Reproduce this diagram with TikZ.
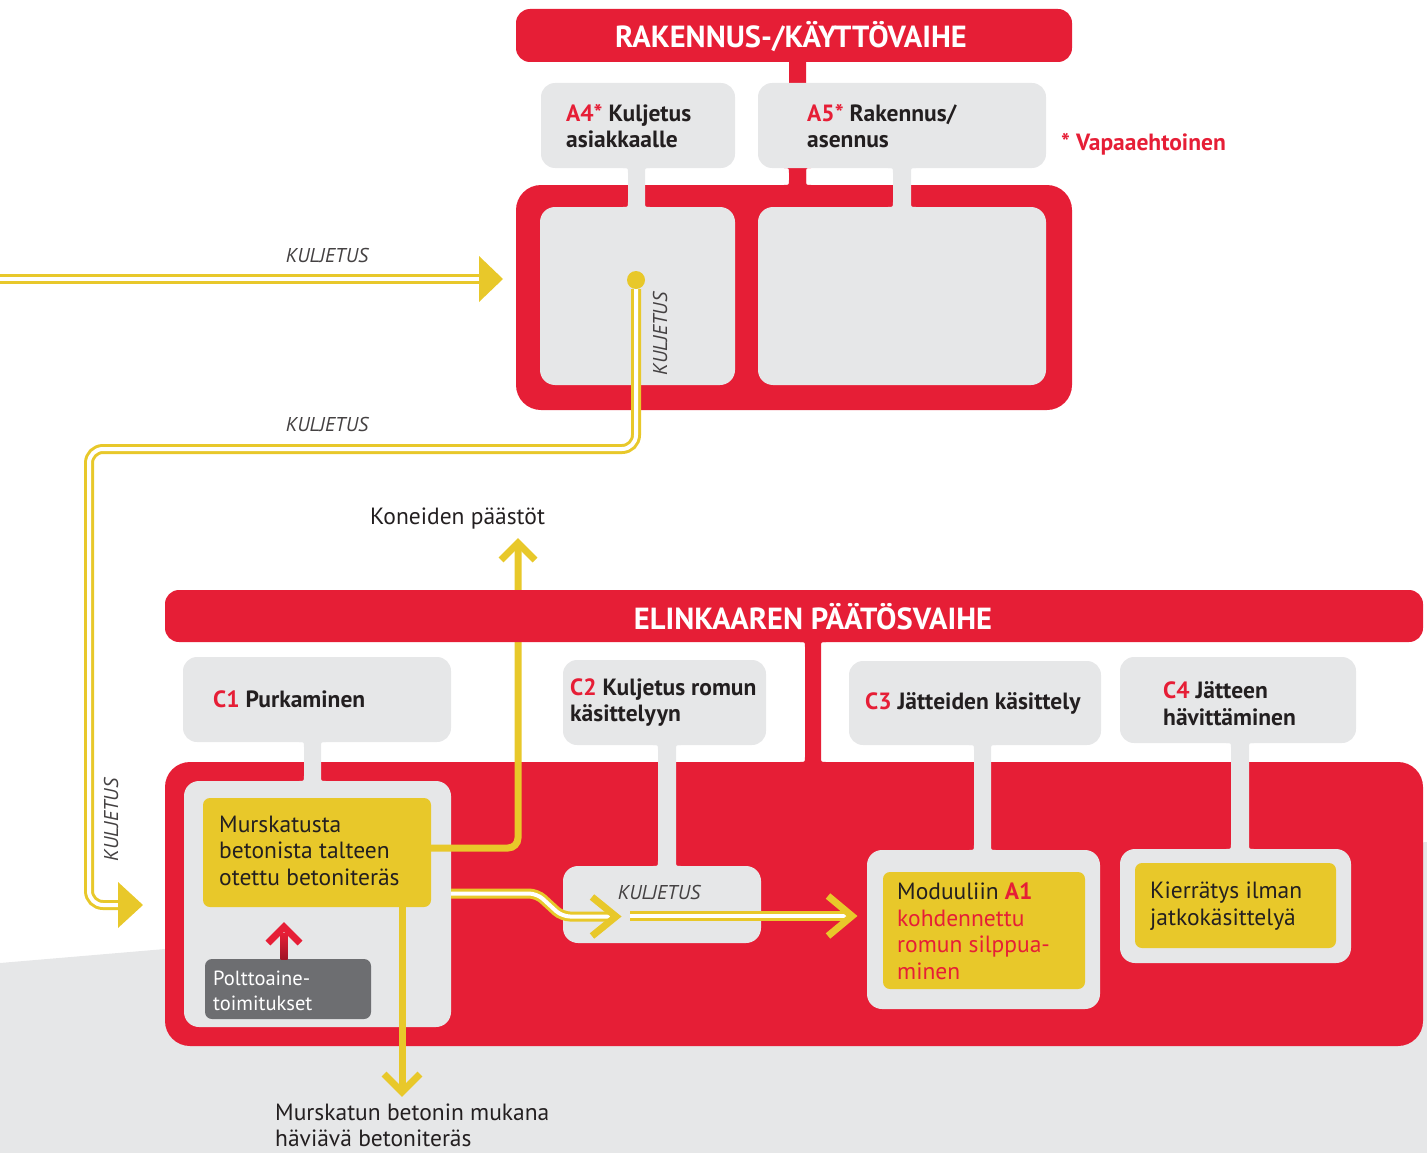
\documentclass[tikz,border=0pt]{standalone}
\usepackage{fontspec}
\setmainfont{PT Sans}
\definecolor{rd}{HTML}{E61E36}
\definecolor{yl}{HTML}{E8C82A}
\definecolor{lg}{HTML}{E6E7E8}
\definecolor{dg}{HTML}{6D6E71}
\definecolor{tx}{HTML}{231F20}
\newcommand{\stemfill}[6]{%
 \fill[#1] ({#2-#6},#4) .. controls (#2,#4) .. (#2,{#4+#6}) -- (#2,{#5-#6}) .. controls (#2,#5) .. ({#2-#6},#5) -- ({#3+#6},#5) .. controls (#3,#5) .. (#3,{#5-#6}) -- (#3,{#4+#6}) .. controls (#3,#4) .. ({#3+#6},#4) -- cycle;}
\begin{document}
\begin{tikzpicture}[x=1pt,y=-1pt,
  redbox/.style={fill=rd, inner sep=0pt, rounded corners=25pt},
  hdrbox/.style={fill=rd, inner sep=0pt, rounded corners=14pt},
  greybox/.style={fill=lg, inner sep=0pt, rounded corners=14pt},
  ylbox/.style={fill=yl, inner sep=0pt, rounded corners=7pt},
  fuelbox/.style={fill=dg, inner sep=0pt, rounded corners=7pt},
  hdrtxt/.style={text=white, inner sep=0pt, font=\fontsize{30.5}{33}\selectfont\bfseries},
  lbl/.style={text=tx, inner sep=0pt, align=left, anchor=west, font=\fontsize{23.5}{26.5}\selectfont\bfseries},
  body/.style={text=tx, inner sep=0pt, align=left, anchor=west, font=\fontsize{23.5}{26.5}\selectfont},
  kul/.style={text=tx!85, inner sep=0pt, font=\fontsize{20}{22}\selectfont\itshape},
  dbl/.style={draw=yl, line width=3pt, double=white, double distance=4pt},
  yline/.style={draw=yl, line width=7pt},
  chev/.style={draw=yl, line width=7pt, miter limit=10},
  rchev/.style={draw=rd, line width=7pt, miter limit=10}
]
\useasboundingbox (0,0) rectangle (1427,1153);
% background
\fill[lg] (0,963) -- (1427,842) -- (1427,1153) -- (0,1153) -- cycle;

% ---------- upper section ----------
\stemfill{rd}{789}{806}{55}{190}{5}
\node[hdrbox, minimum width=556pt, minimum height=53pt] (hdr1) at (794,35.5) {};
\node[redbox, minimum width=556pt, minimum height=225pt] (topbig) at (794,297.5) {};
\stemfill{rd}{789}{806}{168}{185}{5}
\node[greybox, minimum width=194pt, minimum height=85pt] (a4) at (638,125.5) {};
\node[greybox, minimum width=288pt, minimum height=85pt] (a5) at (902,125.5) {};
\stemfill{lg}{628}{645}{168}{207}{5}
\stemfill{lg}{893}{911}{168}{207}{5}
\node[greybox, rounded corners=15pt, minimum width=195pt, minimum height=178pt] (in4) at (637.5,296) {};
\node[greybox, rounded corners=15pt, minimum width=288pt, minimum height=178pt] (in5) at (902,296) {};
\node[hdrtxt] (hdr1t) at (791,37) {RAKENNUS-/KÄYTTÖVAIHE};
\node[lbl] (a4t) at (566,126) {\textcolor{rd}{A4*} Kuljetus\\asiakkaalle};
\node[lbl] (a5t) at (807,126) {\textcolor{rd}{A5*} Rakennus/\\asennus};
\node[lbl, text=rd] (opt) at (1061,144) {* Vapaaehtoinen};

% ---------- lower section ----------
\node[redbox, minimum width=1258pt, minimum height=284pt] (botbig) at (794,904) {};
\stemfill{rd}{805}{821}{642}{762}{5}
\node[greybox, minimum width=268pt, minimum height=85pt] (c1) at (317,699.5) {};
\node[greybox, minimum width=203pt, minimum height=85pt] (c2) at (664.5,702.5) {};
\node[greybox, minimum width=252pt, minimum height=84pt] (c3) at (975,703) {};
\node[greybox, minimum width=236pt, minimum height=86pt] (c4) at (1238,700) {};
\stemfill{lg}{304}{321}{742}{781}{5}
\stemfill{lg}{658}{676}{745}{866}{5}
\stemfill{lg}{974}{991}{745}{850}{5}
\stemfill{lg}{1231}{1249}{743}{849}{5}
\node[greybox, rounded corners=15pt, minimum width=267pt, minimum height=246pt] (c1in) at (317.5,904) {};
\node[greybox, rounded corners=15pt, minimum width=198pt, minimum height=77pt] (c2in) at (662,904.5) {};
\node[greybox, rounded corners=15pt, minimum width=233pt, minimum height=159pt] (c3in) at (983.5,929.5) {};
\node[greybox, rounded corners=15pt, minimum width=231pt, minimum height=114pt] (c4in) at (1235.5,906) {};
\node[ylbox, minimum width=228pt, minimum height=109pt] (yb1) at (317,852.5) {};
\node[ylbox, minimum width=202pt, minimum height=117pt] (yb3) at (984,930.5) {};
\node[ylbox, minimum width=201pt, minimum height=85pt] (yb4) at (1235.5,905.5) {};
\node[fuelbox, minimum width=166pt, minimum height=60pt] (fuel) at (288,989) {};

% yellow connectors
\coordinate (u0) at (431,848);
\coordinate (u1) at (518,543);
\draw[yline, rounded corners=10pt] (u0) -- (518,848) -- (u1);
\draw[chev] (501,560) -- (u1) -- (535,560);
\coordinate (d0) at (402,907);
\coordinate (d1) at (402,1092);
\draw[yline] (d0) -- (d1);
\draw[chev] (384,1074) -- (d1) -- (420,1074);

% red fuel arrow
\coordinate (r1) at (284,927);
\shade[top color=rd, bottom color=rd!70!black] (280.5,933) rectangle (287.5,959);
\draw[rchev] (268,943) -- (r1) -- (300,943);

% double transport lines
\coordinate (lft) at (0,279);
\coordinate (inA) at (481,279);
\draw[dbl] (lft) -- (inA);
\fill[yl] (479,256) -- (503,279) -- (479,302) -- cycle;

\node[circle, fill=yl, minimum size=18pt, inner sep=0pt] (dot) at (636,280) {};
\coordinate (inB) at (120,905);
\draw[dbl, rounded corners=14pt] (dot.south) -- (636,449) -- (89,449) -- (89,905) -- (inB);
\fill[yl] (118,882) -- (143,905) -- (118,928) -- cycle;

\coordinate (s1) at (451,893.5);
\coordinate (s2) at (612,916.5);
\draw[dbl, rounded corners=8pt] (s1) -- (537,893.5) -- (562,916.5) -- (s2);
\draw[chev] (592,897) -- (616,916.5) -- (592,936);
\coordinate (t1) at (630,916);
\coordinate (t2) at (848,916);
\draw[dbl] (t1) -- (t2);
\draw[chev] (828,896) -- (852,916) -- (828,936);

\node[hdrbox, minimum width=1258pt, minimum height=52pt] (hdr2) at (794,616) {};
\node[hdrtxt] (hdr2t) at (813,617) {ELINKAAREN PÄÄTÖSVAIHE};

% texts
\node[kul] (k1) at (327,255) {KULJETUS};
\node[kul] (k2) at (327,424) {KULJETUS};
\node[kul, rotate=90] (k3) at (660,334) {KULJETUS};
\node[kul, rotate=90] (k4) at (111,820) {KULJETUS};
\node[kul] (k5) at (659,892) {KULJETUS};

\node[lbl] (c1t) at (213,699) {\textcolor{rd}{C1} Purkaminen};
\node[lbl] (c2t) at (570,702.5) {\textcolor{rd}{C2} Kuljetus romun\\käsittelyyn};
\node[lbl] (c3t) at (865,703) {\textcolor{rd}{C3} Jätteiden käsittely};
\node[lbl] (c4t) at (1163,703.5) {\textcolor{rd}{C4} Jätteen\\hävittäminen};

\node[body] (yb1t) at (219,850.5) {Murskatusta\\betonista talteen\\otettu betoniteräs};
\node[body, text=white, font=\fontsize{20.5}{25}\selectfont] (fuelt) at (213,990.5) {Polttoaine-\\toimitukset};
\node[body] (yb3t) at (897,931.5) {Moduuliin \textcolor{rd}{\bfseries A1}\\\textcolor{rd}{kohdennettu}\\\textcolor{rd}{romun silppua-}\\\textcolor{rd}{minen}};
\node[body] (yb4t) at (1150,906) {Kierrätys ilman\\jatkokäsittelyä};
\node[body] (em) at (370,519) {Koneiden päästöt};
\node[body] (loss) at (275,1125.5) {Murskatun betonin mukana\\häviävä betoniteräs};
\end{tikzpicture}
\end{document}
